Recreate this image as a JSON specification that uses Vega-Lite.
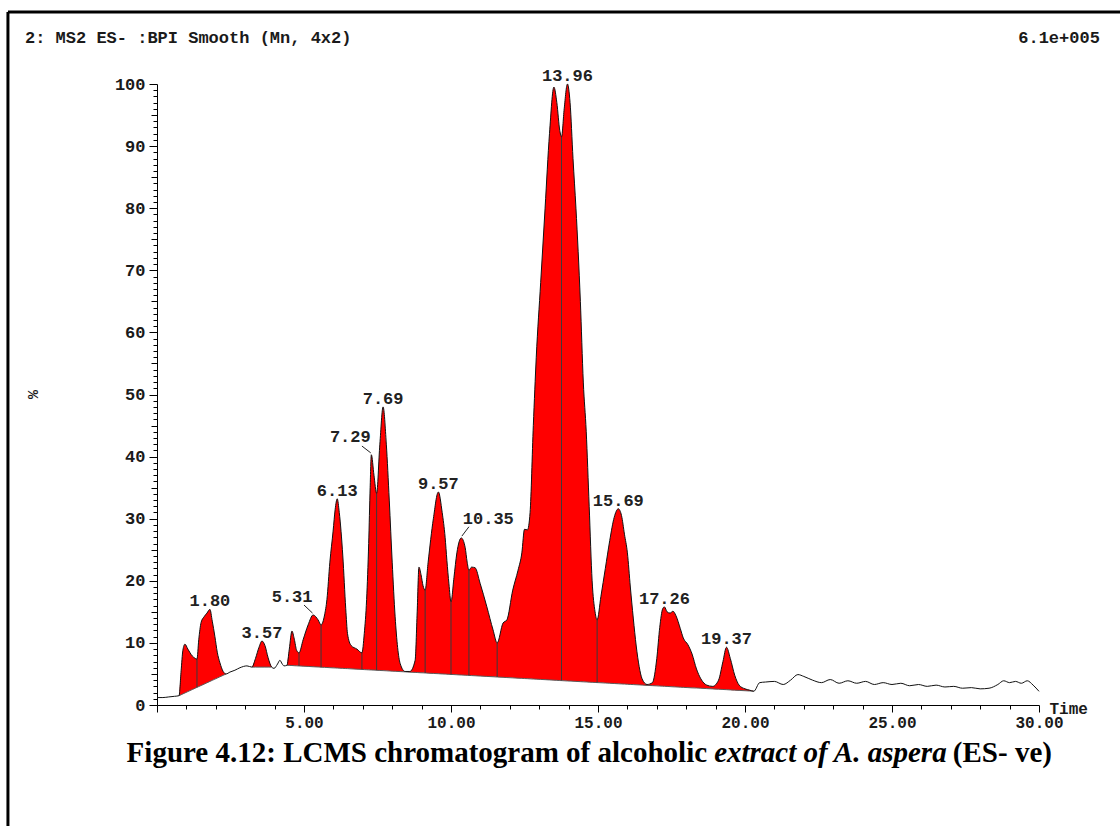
{
  "$schema": "https://vega.github.io/schema/vega-lite/v6.json",
  "description": "LCMS chromatogram (BPI, ES-) of an alcoholic extract of A. aspera: trace, integrated peaks with drop lines and retention-time labels.",
  "width": 882,
  "height": 621,
  "autosize": "none",
  "padding": {"left": 157, "top": 84, "right": 81, "bottom": 121},
  "background": "white",
  "config": {
    "view": {"stroke": null},
    "font": "Liberation Mono",
    "axis": {
      "grid": false,
      "domainColor": "#000",
      "tickColor": "#000",
      "labelFont": "Liberation Mono",
      "labelFontWeight": "bold",
      "labelColor": "#1a1a1a",
      "labelOverlap": false,
      "labelFlush": false,
      "titleFont": "Liberation Mono",
      "titleFontWeight": "bold",
      "titleColor": "#1a1a1a"
    }
  },
  "datasets": {
    "trace": [
      {"t": 0.0, "v": 1.2}, {"t": 0.2, "v": 1.2}, {"t": 0.4, "v": 1.3}, {"t": 0.6, "v": 1.4},
      {"t": 0.75, "v": 1.5, "b": 1.5, "s": "A"},
      {"t": 0.82, "v": 5.5, "b": 1.65, "s": "A"},
      {"t": 0.88, "v": 8.8, "b": 1.79, "s": "A"},
      {"t": 0.95, "v": 9.8, "b": 1.94, "s": "A"},
      {"t": 1.05, "v": 9.0, "b": 2.16, "s": "A"},
      {"t": 1.2, "v": 7.9, "b": 2.49, "s": "A"},
      {"t": 1.3, "v": 7.5, "b": 2.71, "s": "A"},
      {"t": 1.36, "v": 7.4, "b": 2.84, "s": "A"},
      {"t": 1.42, "v": 10.5, "b": 2.97, "s": "A"},
      {"t": 1.5, "v": 13.3, "b": 3.14, "s": "A"},
      {"t": 1.6, "v": 14.2, "b": 3.36, "s": "A"},
      {"t": 1.7, "v": 14.8, "b": 3.58, "s": "A"},
      {"t": 1.8, "v": 15.4, "b": 3.8, "s": "A"},
      {"t": 1.88, "v": 13.5, "b": 3.97, "s": "A"},
      {"t": 1.97, "v": 11.0, "b": 4.17, "s": "A"},
      {"t": 2.05, "v": 8.5, "b": 4.34, "s": "A"},
      {"t": 2.14, "v": 6.8, "b": 4.54, "s": "A"},
      {"t": 2.25, "v": 5.4, "b": 4.78, "s": "A"},
      {"t": 2.35, "v": 5.0, "b": 5.0, "s": "A"},
      {"t": 2.48, "v": 5.3}, {"t": 2.65, "v": 5.6}, {"t": 2.82, "v": 6.0}, {"t": 3.06, "v": 6.3},
      {"t": 3.23, "v": 6.1, "b": 6.1, "s": "B"},
      {"t": 3.35, "v": 7.5, "b": 6.1, "s": "B"},
      {"t": 3.47, "v": 9.3, "b": 6.1, "s": "B"},
      {"t": 3.57, "v": 10.3, "b": 6.1, "s": "B"},
      {"t": 3.67, "v": 9.6, "b": 6.1, "s": "B"},
      {"t": 3.78, "v": 7.6, "b": 6.1, "s": "B"},
      {"t": 3.9, "v": 6.1, "b": 6.1, "s": "B"},
      {"t": 3.98, "v": 5.9}, {"t": 4.1, "v": 6.6}, {"t": 4.18, "v": 7.2}, {"t": 4.26, "v": 6.6}, {"t": 4.32, "v": 6.3},
      {"t": 4.42, "v": 6.4, "b": 6.4, "s": "C"},
      {"t": 4.5, "v": 9.0, "b": 6.38, "s": "C"},
      {"t": 4.59, "v": 11.9, "b": 6.36, "s": "C"},
      {"t": 4.67, "v": 10.6, "b": 6.33, "s": "C"},
      {"t": 4.75, "v": 8.8, "b": 6.31, "s": "C"},
      {"t": 4.83, "v": 8.4, "b": 6.29, "s": "C"},
      {"t": 4.97, "v": 10.5, "b": 6.25, "s": "C"},
      {"t": 5.14, "v": 12.9, "b": 6.21, "s": "C"},
      {"t": 5.31, "v": 14.5, "b": 6.16, "s": "C"},
      {"t": 5.48, "v": 13.7, "b": 6.12, "s": "C"},
      {"t": 5.58, "v": 12.9, "b": 6.09, "s": "C"},
      {"t": 5.7, "v": 14.5, "b": 6.06, "s": "C"},
      {"t": 5.78, "v": 17.0, "b": 6.04, "s": "C"},
      {"t": 5.88, "v": 23.0, "b": 6.01, "s": "C"},
      {"t": 5.99, "v": 28.0, "b": 5.98, "s": "C"},
      {"t": 6.06, "v": 31.5, "b": 5.97, "s": "C"},
      {"t": 6.13, "v": 33.2, "b": 5.95, "s": "C"},
      {"t": 6.2, "v": 31.0, "b": 5.93, "s": "C"},
      {"t": 6.32, "v": 24.0, "b": 5.9, "s": "C"},
      {"t": 6.42, "v": 15.5, "b": 5.87, "s": "C"},
      {"t": 6.48, "v": 11.5, "b": 5.86, "s": "C"},
      {"t": 6.6, "v": 9.6, "b": 5.82, "s": "C"},
      {"t": 6.8, "v": 9.0, "b": 5.77, "s": "C"},
      {"t": 6.97, "v": 8.4, "b": 5.73, "s": "C"},
      {"t": 7.05, "v": 11.5, "b": 5.7, "s": "C"},
      {"t": 7.13, "v": 17.0, "b": 5.68, "s": "C"},
      {"t": 7.2, "v": 26.0, "b": 5.66, "s": "C"},
      {"t": 7.25, "v": 35.0, "b": 5.65, "s": "C"},
      {"t": 7.29, "v": 40.3, "b": 5.64, "s": "C"},
      {"t": 7.38, "v": 37.0, "b": 5.62, "s": "C"},
      {"t": 7.47, "v": 34.1, "b": 5.59, "s": "C"},
      {"t": 7.58, "v": 42.0, "b": 5.56, "s": "C"},
      {"t": 7.69, "v": 48.0, "b": 5.54, "s": "C"},
      {"t": 7.8, "v": 42.0, "b": 5.51, "s": "C"},
      {"t": 7.9, "v": 33.0, "b": 5.48, "s": "C"},
      {"t": 8.0, "v": 23.0, "b": 5.45, "s": "C"},
      {"t": 8.1, "v": 14.2, "b": 5.43, "s": "C"},
      {"t": 8.27, "v": 6.7, "b": 5.38, "s": "C"},
      {"t": 8.44, "v": 5.4, "b": 5.34, "s": "C"},
      {"t": 8.6, "v": 5.4, "b": 5.29, "s": "C"},
      {"t": 8.78, "v": 7.2, "b": 5.25, "s": "C"},
      {"t": 8.85, "v": 15.0, "b": 5.23, "s": "C"},
      {"t": 8.91, "v": 22.2, "b": 5.21, "s": "C"},
      {"t": 8.98, "v": 21.0, "b": 5.19, "s": "C"},
      {"t": 9.05, "v": 19.2, "b": 5.18, "s": "C"},
      {"t": 9.12, "v": 18.5, "b": 5.16, "s": "C"},
      {"t": 9.22, "v": 22.9, "b": 5.13, "s": "C"},
      {"t": 9.4, "v": 30.0, "b": 5.08, "s": "C"},
      {"t": 9.57, "v": 34.3, "b": 5.04, "s": "C"},
      {"t": 9.7, "v": 31.0, "b": 5.0, "s": "C"},
      {"t": 9.8, "v": 27.0, "b": 4.98, "s": "C"},
      {"t": 9.86, "v": 23.3, "b": 4.96, "s": "C"},
      {"t": 9.93, "v": 19.5, "b": 4.94, "s": "C"},
      {"t": 10.0, "v": 16.6, "b": 4.92, "s": "C"},
      {"t": 10.1, "v": 20.5, "b": 4.9, "s": "C"},
      {"t": 10.2, "v": 24.5, "b": 4.87, "s": "C"},
      {"t": 10.35, "v": 26.9, "b": 4.83, "s": "C"},
      {"t": 10.48, "v": 25.4, "b": 4.8, "s": "C"},
      {"t": 10.55, "v": 23.0, "b": 4.78, "s": "C"},
      {"t": 10.61, "v": 21.7, "b": 4.76, "s": "C"},
      {"t": 10.7, "v": 22.2, "b": 4.74, "s": "C"},
      {"t": 10.82, "v": 22.1, "b": 4.71, "s": "C"},
      {"t": 10.99, "v": 19.6, "b": 4.66, "s": "C"},
      {"t": 11.22, "v": 15.8, "b": 4.6, "s": "C"},
      {"t": 11.43, "v": 12.1, "b": 4.55, "s": "C"},
      {"t": 11.57, "v": 10.0, "b": 4.51, "s": "C"},
      {"t": 11.77, "v": 13.2, "b": 4.46, "s": "C"},
      {"t": 11.9, "v": 13.7, "b": 4.42, "s": "C"},
      {"t": 12.1, "v": 18.5, "b": 4.37, "s": "C"},
      {"t": 12.28, "v": 21.7, "b": 4.32, "s": "C"},
      {"t": 12.41, "v": 24.5, "b": 4.29, "s": "C"},
      {"t": 12.5, "v": 28.3, "b": 4.26, "s": "C"},
      {"t": 12.6, "v": 28.2, "b": 4.24, "s": "C"},
      {"t": 12.69, "v": 31.0, "b": 4.21, "s": "C"},
      {"t": 12.8, "v": 45.0, "b": 4.18, "s": "C"},
      {"t": 12.9, "v": 56.0, "b": 4.16, "s": "C"},
      {"t": 13.05, "v": 68.0, "b": 4.12, "s": "C"},
      {"t": 13.2, "v": 80.0, "b": 4.08, "s": "C"},
      {"t": 13.35, "v": 92.0, "b": 4.04, "s": "C"},
      {"t": 13.5, "v": 99.5, "b": 4.0, "s": "C"},
      {"t": 13.6, "v": 97.0, "b": 3.97, "s": "C"},
      {"t": 13.7, "v": 92.5, "b": 3.94, "s": "C"},
      {"t": 13.76, "v": 91.5, "b": 3.93, "s": "C"},
      {"t": 13.85, "v": 96.0, "b": 3.9, "s": "C"},
      {"t": 13.96, "v": 100.0, "b": 3.87, "s": "C"},
      {"t": 14.05, "v": 97.0, "b": 3.85, "s": "C"},
      {"t": 14.15, "v": 88.0, "b": 3.83, "s": "C"},
      {"t": 14.25, "v": 80.0, "b": 3.8, "s": "C"},
      {"t": 14.4, "v": 65.0, "b": 3.76, "s": "C"},
      {"t": 14.5, "v": 52.0, "b": 3.73, "s": "C"},
      {"t": 14.6, "v": 44.0, "b": 3.71, "s": "C"},
      {"t": 14.7, "v": 32.0, "b": 3.68, "s": "C"},
      {"t": 14.8, "v": 20.0, "b": 3.65, "s": "C"},
      {"t": 14.9, "v": 15.0, "b": 3.63, "s": "C"},
      {"t": 14.97, "v": 13.7, "b": 3.61, "s": "C"},
      {"t": 15.1, "v": 17.5, "b": 3.58, "s": "C"},
      {"t": 15.25, "v": 22.0, "b": 3.54, "s": "C"},
      {"t": 15.4, "v": 26.5, "b": 3.5, "s": "C"},
      {"t": 15.55, "v": 30.2, "b": 3.46, "s": "C"},
      {"t": 15.69, "v": 31.6, "b": 3.42, "s": "C"},
      {"t": 15.8, "v": 30.5, "b": 3.39, "s": "C"},
      {"t": 15.9, "v": 27.5, "b": 3.37, "s": "C"},
      {"t": 16.0, "v": 24.5, "b": 3.34, "s": "C"},
      {"t": 16.1, "v": 19.0, "b": 3.31, "s": "C"},
      {"t": 16.2, "v": 14.0, "b": 3.29, "s": "C"},
      {"t": 16.3, "v": 9.5, "b": 3.26, "s": "C"},
      {"t": 16.4, "v": 6.2, "b": 3.24, "s": "C"},
      {"t": 16.5, "v": 4.2, "b": 3.21, "s": "C"},
      {"t": 16.67, "v": 3.3, "b": 3.16, "s": "C"},
      {"t": 16.85, "v": 3.6, "b": 3.12, "s": "C"},
      {"t": 17.0, "v": 7.5, "b": 3.08, "s": "C"},
      {"t": 17.1, "v": 12.5, "b": 3.05, "s": "C"},
      {"t": 17.2, "v": 15.5, "b": 3.03, "s": "C"},
      {"t": 17.26, "v": 15.8, "b": 3.01, "s": "C"},
      {"t": 17.35, "v": 15.0, "b": 2.99, "s": "C"},
      {"t": 17.45, "v": 14.8, "b": 2.96, "s": "C"},
      {"t": 17.55, "v": 15.1, "b": 2.93, "s": "C"},
      {"t": 17.65, "v": 14.4, "b": 2.91, "s": "C"},
      {"t": 17.8, "v": 12.3, "b": 2.87, "s": "C"},
      {"t": 17.9, "v": 10.8, "b": 2.84, "s": "C"},
      {"t": 18.06, "v": 9.7, "b": 2.8, "s": "C"},
      {"t": 18.2, "v": 8.2, "b": 2.76, "s": "C"},
      {"t": 18.35, "v": 5.8, "b": 2.74, "s": "C"},
      {"t": 18.5, "v": 4.2, "b": 2.7, "s": "C"},
      {"t": 18.7, "v": 3.2, "b": 2.64, "s": "C"},
      {"t": 18.9, "v": 3.0, "b": 2.59, "s": "C"},
      {"t": 19.1, "v": 4.0, "b": 2.54, "s": "C"},
      {"t": 19.25, "v": 7.0, "b": 2.5, "s": "C"},
      {"t": 19.37, "v": 9.3, "b": 2.47, "s": "C"},
      {"t": 19.5, "v": 7.5, "b": 2.43, "s": "C"},
      {"t": 19.65, "v": 4.8, "b": 2.39, "s": "C"},
      {"t": 19.8, "v": 3.2, "b": 2.35, "s": "C"},
      {"t": 20.0, "v": 2.6, "b": 2.3, "s": "C"},
      {"t": 20.15, "v": 2.4, "b": 2.26, "s": "C"},
      {"t": 20.3, "v": 2.22, "b": 2.22, "s": "C"},
      {"t": 20.5, "v": 3.6}, {"t": 20.7, "v": 3.7}, {"t": 21.0, "v": 3.8}, {"t": 21.3, "v": 3.3},
      {"t": 21.55, "v": 4.0}, {"t": 21.8, "v": 4.9}, {"t": 22.0, "v": 4.6}, {"t": 22.3, "v": 4.0},
      {"t": 22.6, "v": 3.6}, {"t": 22.9, "v": 4.1}, {"t": 23.2, "v": 3.5}, {"t": 23.5, "v": 3.9},
      {"t": 23.8, "v": 3.5}, {"t": 24.1, "v": 3.8}, {"t": 24.4, "v": 3.3}, {"t": 24.7, "v": 3.6},
      {"t": 25.0, "v": 3.3}, {"t": 25.3, "v": 3.5}, {"t": 25.6, "v": 3.1}, {"t": 25.9, "v": 3.3},
      {"t": 26.2, "v": 3.0}, {"t": 26.5, "v": 3.2}, {"t": 26.8, "v": 2.9}, {"t": 27.1, "v": 3.0},
      {"t": 27.4, "v": 2.7}, {"t": 27.7, "v": 2.8}, {"t": 28.0, "v": 2.6}, {"t": 28.3, "v": 2.7},
      {"t": 28.6, "v": 3.3}, {"t": 28.8, "v": 3.9}, {"t": 29.0, "v": 3.6}, {"t": 29.2, "v": 3.8},
      {"t": 29.4, "v": 3.5}, {"t": 29.6, "v": 3.9}, {"t": 29.8, "v": 3.2}, {"t": 30.0, "v": 2.2}
    ],
    "drops": [
      {"t": 1.36, "top": 7.4, "bottom": 2.84},
      {"t": 4.83, "top": 8.4, "bottom": 6.29},
      {"t": 5.58, "top": 12.9, "bottom": 6.09},
      {"t": 6.97, "top": 8.4, "bottom": 5.73},
      {"t": 7.47, "top": 34.1, "bottom": 5.59},
      {"t": 9.12, "top": 18.5, "bottom": 5.16},
      {"t": 10.0, "top": 16.6, "bottom": 4.92},
      {"t": 10.61, "top": 21.7, "bottom": 4.76},
      {"t": 11.57, "top": 10.0, "bottom": 4.51},
      {"t": 13.76, "top": 91.5, "bottom": 3.93},
      {"t": 14.97, "top": 13.7, "bottom": 3.61}
    ],
    "peaks": [
      {"t": 1.8, "v": 15.4, "label": "1.80", "pos": "top"},
      {"t": 3.57, "v": 10.3, "label": "3.57", "pos": "top"},
      {"t": 5.31, "v": 14.5, "label": "5.31", "pos": "left"},
      {"t": 6.13, "v": 33.2, "label": "6.13", "pos": "top"},
      {"t": 7.29, "v": 40.3, "label": "7.29", "pos": "left"},
      {"t": 7.69, "v": 48.0, "label": "7.69", "pos": "top"},
      {"t": 9.57, "v": 34.3, "label": "9.57", "pos": "top"},
      {"t": 10.35, "v": 26.9, "label": "10.35", "pos": "right"},
      {"t": 13.96, "v": 100.0, "label": "13.96", "pos": "top"},
      {"t": 15.69, "v": 31.6, "label": "15.69", "pos": "top"},
      {"t": 17.26, "v": 15.8, "label": "17.26", "pos": "top"},
      {"t": 19.37, "v": 9.3, "label": "19.37", "pos": "top"}
    ],
    "leaders": [
      {"t": 5.0, "v": 16.1, "t2": 5.29, "v2": 14.8},
      {"t": 6.97, "v": 41.7, "t2": 7.27, "v2": 40.6},
      {"t": 10.61, "v": 28.7, "t2": 10.37, "v2": 27.2}
    ]
  },
  "layer": [
    {
      "data": {"name": "trace"},
      "transform": [{"filter": "isValid(datum.s)"}],
      "mark": {"type": "area", "color": "#ff0000", "interpolate": "monotone"},
      "encoding": {
        "x": {"field": "t", "type": "quantitative", "scale": {"domain": [0, 30], "nice": false, "zero": false},
          "axis": {"tickCount": 30, "labelExpr": "datum.value > 0 && datum.value % 5 === 0 ? format(datum.value, '.2f') : ''", "tickSize": {"condition": {"test": "datum.value % 5 === 0", "value": 7}, "value": 4}, "labelFontSize": 16, "labelPadding": 2, "title": "Time", "titleFontSize": 16, "titleAlign": "left", "titleBaseline": "middle", "titleAngle": 0, "titleX": 892, "titleY": 3}},
        "y": {"field": "v", "type": "quantitative", "scale": {"domain": [0, 100], "nice": false},
          "axis": {"tickCount": 100, "labelExpr": "datum.value % 10 === 0 ? datum.label : ''", "tickSize": {"condition": [{"test": "datum.value % 10 === 0", "value": 8}, {"test": "datum.value % 5 === 0", "value": 6}], "value": 4}, "labelFontSize": 17, "labelPadding": 4, "title": "%", "titleFontSize": 15, "titleAngle": 90, "titleAlign": "center", "titleBaseline": "middle", "titleX": -125, "titleY": 310}},
        "y2": {"field": "b"},
        "detail": {"field": "s"}
      }
    },
    {
      "data": {"name": "trace"},
      "transform": [{"filter": "isValid(datum.s)"}],
      "mark": {"type": "line", "color": "#5a5a5a", "strokeWidth": 1},
      "encoding": {
        "x": {"field": "t", "type": "quantitative", "scale": {"domain": [0, 30], "nice": false, "zero": false},
          "axis": {"tickCount": 30, "labelExpr": "datum.value > 0 && datum.value % 5 === 0 ? format(datum.value, '.2f') : ''", "tickSize": {"condition": {"test": "datum.value % 5 === 0", "value": 7}, "value": 4}, "labelFontSize": 16, "labelPadding": 2, "title": "Time", "titleFontSize": 16, "titleAlign": "left", "titleBaseline": "middle", "titleAngle": 0, "titleX": 892, "titleY": 3}},
        "y": {"field": "b", "type": "quantitative", "scale": {"domain": [0, 100], "nice": false},
          "axis": {"tickCount": 100, "labelExpr": "datum.value % 10 === 0 ? datum.label : ''", "tickSize": {"condition": [{"test": "datum.value % 10 === 0", "value": 8}, {"test": "datum.value % 5 === 0", "value": 6}], "value": 4}, "labelFontSize": 17, "labelPadding": 4, "title": "%", "titleFontSize": 15, "titleAngle": 90, "titleAlign": "center", "titleBaseline": "middle", "titleX": -125, "titleY": 310}},
        "detail": {"field": "s"}
      }
    },
    {
      "data": {"name": "drops"},
      "mark": {"type": "rule", "color": "#3a3a3a", "strokeWidth": 1},
      "encoding": {
        "x": {"field": "t", "type": "quantitative", "scale": {"domain": [0, 30], "nice": false, "zero": false},
          "axis": {"tickCount": 30, "labelExpr": "datum.value > 0 && datum.value % 5 === 0 ? format(datum.value, '.2f') : ''", "tickSize": {"condition": {"test": "datum.value % 5 === 0", "value": 7}, "value": 4}, "labelFontSize": 16, "labelPadding": 2, "title": "Time", "titleFontSize": 16, "titleAlign": "left", "titleBaseline": "middle", "titleAngle": 0, "titleX": 892, "titleY": 3}},
        "y": {"field": "top", "type": "quantitative", "scale": {"domain": [0, 100], "nice": false},
          "axis": {"tickCount": 100, "labelExpr": "datum.value % 10 === 0 ? datum.label : ''", "tickSize": {"condition": [{"test": "datum.value % 10 === 0", "value": 8}, {"test": "datum.value % 5 === 0", "value": 6}], "value": 4}, "labelFontSize": 17, "labelPadding": 4, "title": "%", "titleFontSize": 15, "titleAngle": 90, "titleAlign": "center", "titleBaseline": "middle", "titleX": -125, "titleY": 310}},
        "y2": {"field": "bottom"}
      }
    },
    {
      "data": {"name": "trace"},
      "mark": {"type": "line", "color": "#111", "strokeWidth": 1, "interpolate": "monotone"},
      "encoding": {
        "x": {"field": "t", "type": "quantitative", "scale": {"domain": [0, 30], "nice": false, "zero": false},
          "axis": {"tickCount": 30, "labelExpr": "datum.value > 0 && datum.value % 5 === 0 ? format(datum.value, '.2f') : ''", "tickSize": {"condition": {"test": "datum.value % 5 === 0", "value": 7}, "value": 4}, "labelFontSize": 16, "labelPadding": 2, "title": "Time", "titleFontSize": 16, "titleAlign": "left", "titleBaseline": "middle", "titleAngle": 0, "titleX": 892, "titleY": 3}},
        "y": {"field": "v", "type": "quantitative", "scale": {"domain": [0, 100], "nice": false},
          "axis": {"tickCount": 100, "labelExpr": "datum.value % 10 === 0 ? datum.label : ''", "tickSize": {"condition": [{"test": "datum.value % 10 === 0", "value": 8}, {"test": "datum.value % 5 === 0", "value": 6}], "value": 4}, "labelFontSize": 17, "labelPadding": 4, "title": "%", "titleFontSize": 15, "titleAngle": 90, "titleAlign": "center", "titleBaseline": "middle", "titleX": -125, "titleY": 310}}
      }
    },
    {
      "data": {"name": "leaders"},
      "mark": {"type": "rule", "color": "#222", "strokeWidth": 1},
      "encoding": {
        "x": {"field": "t", "type": "quantitative", "scale": {"domain": [0, 30], "nice": false, "zero": false},
          "axis": {"tickCount": 30, "labelExpr": "datum.value > 0 && datum.value % 5 === 0 ? format(datum.value, '.2f') : ''", "tickSize": {"condition": {"test": "datum.value % 5 === 0", "value": 7}, "value": 4}, "labelFontSize": 16, "labelPadding": 2, "title": "Time", "titleFontSize": 16, "titleAlign": "left", "titleBaseline": "middle", "titleAngle": 0, "titleX": 892, "titleY": 3}},
        "y": {"field": "v", "type": "quantitative", "scale": {"domain": [0, 100], "nice": false},
          "axis": {"tickCount": 100, "labelExpr": "datum.value % 10 === 0 ? datum.label : ''", "tickSize": {"condition": [{"test": "datum.value % 10 === 0", "value": 8}, {"test": "datum.value % 5 === 0", "value": 6}], "value": 4}, "labelFontSize": 17, "labelPadding": 4, "title": "%", "titleFontSize": 15, "titleAngle": 90, "titleAlign": "center", "titleBaseline": "middle", "titleX": -125, "titleY": 310}},
        "x2": {"field": "t2"},
        "y2": {"field": "v2"}
      }
    },
    {
      "data": {"name": "peaks"},
      "transform": [{"filter": "datum.pos === 'top'"}],
      "mark": {"type": "text", "font": "Liberation Mono", "fontWeight": "bold", "fontSize": 17, "color": "#222", "baseline": "alphabetic", "align": "center", "dy": -3},
      "encoding": {
        "x": {"field": "t", "type": "quantitative", "scale": {"domain": [0, 30], "nice": false, "zero": false},
          "axis": {"tickCount": 30, "labelExpr": "datum.value > 0 && datum.value % 5 === 0 ? format(datum.value, '.2f') : ''", "tickSize": {"condition": {"test": "datum.value % 5 === 0", "value": 7}, "value": 4}, "labelFontSize": 16, "labelPadding": 2, "title": "Time", "titleFontSize": 16, "titleAlign": "left", "titleBaseline": "middle", "titleAngle": 0, "titleX": 892, "titleY": 3}},
        "y": {"field": "v", "type": "quantitative", "scale": {"domain": [0, 100], "nice": false},
          "axis": {"tickCount": 100, "labelExpr": "datum.value % 10 === 0 ? datum.label : ''", "tickSize": {"condition": [{"test": "datum.value % 10 === 0", "value": 8}, {"test": "datum.value % 5 === 0", "value": 6}], "value": 4}, "labelFontSize": 17, "labelPadding": 4, "title": "%", "titleFontSize": 15, "titleAngle": 90, "titleAlign": "center", "titleBaseline": "middle", "titleX": -125, "titleY": 310}},
        "text": {"field": "label"}
      }
    },
    {
      "data": {"name": "peaks"},
      "transform": [{"filter": "datum.pos === 'left'"}],
      "mark": {"type": "text", "font": "Liberation Mono", "fontWeight": "bold", "fontSize": 17, "color": "#222", "baseline": "middle", "align": "center", "dx": -21, "dy": -18},
      "encoding": {
        "x": {"field": "t", "type": "quantitative", "scale": {"domain": [0, 30], "nice": false, "zero": false},
          "axis": {"tickCount": 30, "labelExpr": "datum.value > 0 && datum.value % 5 === 0 ? format(datum.value, '.2f') : ''", "tickSize": {"condition": {"test": "datum.value % 5 === 0", "value": 7}, "value": 4}, "labelFontSize": 16, "labelPadding": 2, "title": "Time", "titleFontSize": 16, "titleAlign": "left", "titleBaseline": "middle", "titleAngle": 0, "titleX": 892, "titleY": 3}},
        "y": {"field": "v", "type": "quantitative", "scale": {"domain": [0, 100], "nice": false},
          "axis": {"tickCount": 100, "labelExpr": "datum.value % 10 === 0 ? datum.label : ''", "tickSize": {"condition": [{"test": "datum.value % 10 === 0", "value": 8}, {"test": "datum.value % 5 === 0", "value": 6}], "value": 4}, "labelFontSize": 17, "labelPadding": 4, "title": "%", "titleFontSize": 15, "titleAngle": 90, "titleAlign": "center", "titleBaseline": "middle", "titleX": -125, "titleY": 310}},
        "text": {"field": "label"}
      }
    },
    {
      "data": {"name": "peaks"},
      "transform": [{"filter": "datum.pos === 'right'"}],
      "mark": {"type": "text", "font": "Liberation Mono", "fontWeight": "bold", "fontSize": 17, "color": "#222", "baseline": "middle", "align": "center", "dx": 27, "dy": -19},
      "encoding": {
        "x": {"field": "t", "type": "quantitative", "scale": {"domain": [0, 30], "nice": false, "zero": false},
          "axis": {"tickCount": 30, "labelExpr": "datum.value > 0 && datum.value % 5 === 0 ? format(datum.value, '.2f') : ''", "tickSize": {"condition": {"test": "datum.value % 5 === 0", "value": 7}, "value": 4}, "labelFontSize": 16, "labelPadding": 2, "title": "Time", "titleFontSize": 16, "titleAlign": "left", "titleBaseline": "middle", "titleAngle": 0, "titleX": 892, "titleY": 3}},
        "y": {"field": "v", "type": "quantitative", "scale": {"domain": [0, 100], "nice": false},
          "axis": {"tickCount": 100, "labelExpr": "datum.value % 10 === 0 ? datum.label : ''", "tickSize": {"condition": [{"test": "datum.value % 10 === 0", "value": 8}, {"test": "datum.value % 5 === 0", "value": 6}], "value": 4}, "labelFontSize": 17, "labelPadding": 4, "title": "%", "titleFontSize": 15, "titleAngle": 90, "titleAlign": "center", "titleBaseline": "middle", "titleX": -125, "titleY": 310}},
        "text": {"field": "label"}
      }
    },
    {
      "data": {"values": [{"note": "2: MS2 ES- :BPI Smooth (Mn, 4x2)"}]},
      "mark": {"type": "text", "font": "Liberation Mono", "fontWeight": "bold", "fontSize": 17, "color": "#1a1a1a", "align": "left", "baseline": "middle"},
      "encoding": {
        "x": {"datum": -4.49, "type": "quantitative", "scale": {"domain": [0, 30], "nice": false, "zero": false},
          "axis": {"tickCount": 30, "labelExpr": "datum.value > 0 && datum.value % 5 === 0 ? format(datum.value, '.2f') : ''", "tickSize": {"condition": {"test": "datum.value % 5 === 0", "value": 7}, "value": 4}, "labelFontSize": 16, "labelPadding": 2, "title": "Time", "titleFontSize": 16, "titleAlign": "left", "titleBaseline": "middle", "titleAngle": 0, "titleX": 892, "titleY": 3}},
        "y": {"datum": 107.4, "type": "quantitative", "scale": {"domain": [0, 100], "nice": false},
          "axis": {"tickCount": 100, "labelExpr": "datum.value % 10 === 0 ? datum.label : ''", "tickSize": {"condition": [{"test": "datum.value % 10 === 0", "value": 8}, {"test": "datum.value % 5 === 0", "value": 6}], "value": 4}, "labelFontSize": 17, "labelPadding": 4, "title": "%", "titleFontSize": 15, "titleAngle": 90, "titleAlign": "center", "titleBaseline": "middle", "titleX": -125, "titleY": 310}},
        "text": {"field": "note"}
      }
    },
    {
      "data": {"values": [{"note": "6.1e+005"}]},
      "mark": {"type": "text", "font": "Liberation Mono", "fontWeight": "bold", "fontSize": 17, "color": "#1a1a1a", "align": "right", "baseline": "middle"},
      "encoding": {
        "x": {"datum": 32.07, "type": "quantitative", "scale": {"domain": [0, 30], "nice": false, "zero": false},
          "axis": {"tickCount": 30, "labelExpr": "datum.value > 0 && datum.value % 5 === 0 ? format(datum.value, '.2f') : ''", "tickSize": {"condition": {"test": "datum.value % 5 === 0", "value": 7}, "value": 4}, "labelFontSize": 16, "labelPadding": 2, "title": "Time", "titleFontSize": 16, "titleAlign": "left", "titleBaseline": "middle", "titleAngle": 0, "titleX": 892, "titleY": 3}},
        "y": {"datum": 107.4, "type": "quantitative", "scale": {"domain": [0, 100], "nice": false},
          "axis": {"tickCount": 100, "labelExpr": "datum.value % 10 === 0 ? datum.label : ''", "tickSize": {"condition": [{"test": "datum.value % 10 === 0", "value": 8}, {"test": "datum.value % 5 === 0", "value": 6}], "value": 4}, "labelFontSize": 17, "labelPadding": 4, "title": "%", "titleFontSize": 15, "titleAngle": 90, "titleAlign": "center", "titleBaseline": "middle", "titleX": -125, "titleY": 310}},
        "text": {"field": "note"}
      }
    },
    {
      "data": {"values": [{"note": "Figure 4.12: LCMS chromatogram of alcoholic"}]},
      "mark": {"type": "text", "font": "Liberation Serif", "fontWeight": "bold", "fontSize": 29, "color": "#000", "align": "right", "baseline": "middle"},
      "encoding": {
        "x": {"datum": 18.71, "type": "quantitative", "scale": {"domain": [0, 30], "nice": false, "zero": false},
          "axis": {"tickCount": 30, "labelExpr": "datum.value > 0 && datum.value % 5 === 0 ? format(datum.value, '.2f') : ''", "tickSize": {"condition": {"test": "datum.value % 5 === 0", "value": 7}, "value": 4}, "labelFontSize": 16, "labelPadding": 2, "title": "Time", "titleFontSize": 16, "titleAlign": "left", "titleBaseline": "middle", "titleAngle": 0, "titleX": 892, "titleY": 3}},
        "y": {"datum": -7.73, "type": "quantitative", "scale": {"domain": [0, 100], "nice": false},
          "axis": {"tickCount": 100, "labelExpr": "datum.value % 10 === 0 ? datum.label : ''", "tickSize": {"condition": [{"test": "datum.value % 10 === 0", "value": 8}, {"test": "datum.value % 5 === 0", "value": 6}], "value": 4}, "labelFontSize": 17, "labelPadding": 4, "title": "%", "titleFontSize": 15, "titleAngle": 90, "titleAlign": "center", "titleBaseline": "middle", "titleX": -125, "titleY": 310}},
        "text": {"field": "note"}
      }
    },
    {
      "data": {"values": [{"note": "extract of A. aspera"}]},
      "mark": {"type": "text", "font": "Liberation Serif", "fontWeight": "bold", "fontStyle": "italic", "fontSize": 29, "color": "#000", "align": "left", "baseline": "middle"},
      "encoding": {
        "x": {"datum": 18.95, "type": "quantitative", "scale": {"domain": [0, 30], "nice": false, "zero": false},
          "axis": {"tickCount": 30, "labelExpr": "datum.value > 0 && datum.value % 5 === 0 ? format(datum.value, '.2f') : ''", "tickSize": {"condition": {"test": "datum.value % 5 === 0", "value": 7}, "value": 4}, "labelFontSize": 16, "labelPadding": 2, "title": "Time", "titleFontSize": 16, "titleAlign": "left", "titleBaseline": "middle", "titleAngle": 0, "titleX": 892, "titleY": 3}},
        "y": {"datum": -7.73, "type": "quantitative", "scale": {"domain": [0, 100], "nice": false},
          "axis": {"tickCount": 100, "labelExpr": "datum.value % 10 === 0 ? datum.label : ''", "tickSize": {"condition": [{"test": "datum.value % 10 === 0", "value": 8}, {"test": "datum.value % 5 === 0", "value": 6}], "value": 4}, "labelFontSize": 17, "labelPadding": 4, "title": "%", "titleFontSize": 15, "titleAngle": 90, "titleAlign": "center", "titleBaseline": "middle", "titleX": -125, "titleY": 310}},
        "text": {"field": "note"}
      }
    },
    {
      "data": {"values": [{"note": "(ES- ve)"}]},
      "mark": {"type": "text", "font": "Liberation Serif", "fontWeight": "bold", "fontSize": 29, "color": "#000", "align": "left", "baseline": "middle"},
      "encoding": {
        "x": {"datum": 27.07, "type": "quantitative", "scale": {"domain": [0, 30], "nice": false, "zero": false},
          "axis": {"tickCount": 30, "labelExpr": "datum.value > 0 && datum.value % 5 === 0 ? format(datum.value, '.2f') : ''", "tickSize": {"condition": {"test": "datum.value % 5 === 0", "value": 7}, "value": 4}, "labelFontSize": 16, "labelPadding": 2, "title": "Time", "titleFontSize": 16, "titleAlign": "left", "titleBaseline": "middle", "titleAngle": 0, "titleX": 892, "titleY": 3}},
        "y": {"datum": -7.73, "type": "quantitative", "scale": {"domain": [0, 100], "nice": false},
          "axis": {"tickCount": 100, "labelExpr": "datum.value % 10 === 0 ? datum.label : ''", "tickSize": {"condition": [{"test": "datum.value % 10 === 0", "value": 8}, {"test": "datum.value % 5 === 0", "value": 6}], "value": 4}, "labelFontSize": 17, "labelPadding": 4, "title": "%", "titleFontSize": 15, "titleAngle": 90, "titleAlign": "center", "titleBaseline": "middle", "titleX": -125, "titleY": 310}},
        "text": {"field": "note"}
      }
    },
    {
      "data": {"values": [{"edge": "top"}]},
      "mark": {"type": "rule", "color": "#000", "strokeWidth": 3},
      "encoding": {
        "x": {"datum": -5.07, "type": "quantitative", "scale": {"domain": [0, 30], "nice": false, "zero": false},
          "axis": {"tickCount": 30, "labelExpr": "datum.value > 0 && datum.value % 5 === 0 ? format(datum.value, '.2f') : ''", "tickSize": {"condition": {"test": "datum.value % 5 === 0", "value": 7}, "value": 4}, "labelFontSize": 16, "labelPadding": 2, "title": "Time", "titleFontSize": 16, "titleAlign": "left", "titleBaseline": "middle", "titleAngle": 0, "titleX": 892, "titleY": 3}},
        "x2": {"datum": 33.5},
        "y": {"datum": 111.6, "type": "quantitative", "scale": {"domain": [0, 100], "nice": false},
          "axis": {"tickCount": 100, "labelExpr": "datum.value % 10 === 0 ? datum.label : ''", "tickSize": {"condition": [{"test": "datum.value % 10 === 0", "value": 8}, {"test": "datum.value % 5 === 0", "value": 6}], "value": 4}, "labelFontSize": 17, "labelPadding": 4, "title": "%", "titleFontSize": 15, "titleAngle": 90, "titleAlign": "center", "titleBaseline": "middle", "titleX": -125, "titleY": 310}}
      }
    },
    {
      "data": {"values": [{"edge": "left"}]},
      "mark": {"type": "rule", "color": "#000", "strokeWidth": 3},
      "encoding": {
        "x": {"datum": -5.07, "type": "quantitative", "scale": {"domain": [0, 30], "nice": false, "zero": false},
          "axis": {"tickCount": 30, "labelExpr": "datum.value > 0 && datum.value % 5 === 0 ? format(datum.value, '.2f') : ''", "tickSize": {"condition": {"test": "datum.value % 5 === 0", "value": 7}, "value": 4}, "labelFontSize": 16, "labelPadding": 2, "title": "Time", "titleFontSize": 16, "titleAlign": "left", "titleBaseline": "middle", "titleAngle": 0, "titleX": 892, "titleY": 3}},
        "y": {"datum": 111.6, "type": "quantitative", "scale": {"domain": [0, 100], "nice": false},
          "axis": {"tickCount": 100, "labelExpr": "datum.value % 10 === 0 ? datum.label : ''", "tickSize": {"condition": [{"test": "datum.value % 10 === 0", "value": 8}, {"test": "datum.value % 5 === 0", "value": 6}], "value": 4}, "labelFontSize": 17, "labelPadding": 4, "title": "%", "titleFontSize": 15, "titleAngle": 90, "titleAlign": "center", "titleBaseline": "middle", "titleX": -125, "titleY": 310}},
        "y2": {"datum": -21}
      }
    }
  ]
}
